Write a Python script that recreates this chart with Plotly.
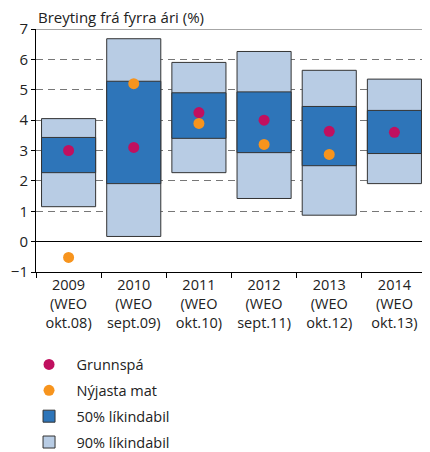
import plotly.graph_objects as go

categories = ["2009<br>(WEO<br>okt.08)", "2010<br>(WEO<br>sept.09)", "2011<br>(WEO<br>okt.10)",
              "2012<br>(WEO<br>sept.11)", "2013<br>(WEO<br>okt.12)", "2014<br>(WEO<br>okt.13)"]
lo90 = [1.15, 0.17, 2.27, 1.42, 0.87, 1.91]
hi90 = [4.05, 6.68, 5.90, 6.26, 5.64, 5.35]
lo50 = [2.27, 1.91, 3.40, 2.93, 2.50, 2.90]
hi50 = [3.43, 5.28, 4.90, 4.93, 4.45, 4.32]
grunnspa = [3.0, 3.1, 4.25, 4.0, 3.63, 3.6]
nyjasta = [-0.52, 5.2, 3.89, 3.2, 2.87, None]

FONT = "Open Sans"
dark = "#2E75B9"
light = "#B8CCE4"
outline = "#333333"

fig = go.Figure()
fig.add_trace(go.Bar(x=categories, y=[h - l for h, l in zip(hi90, lo90)], base=lo90,
                     name="90% líkindabil", marker=dict(color=light, line=dict(color=outline, width=1)),
                     width=0.83, legendrank=4, legendgroup="d"))
fig.add_trace(go.Bar(x=categories, y=[h - l for h, l in zip(hi50, lo50)], base=lo50,
                     name="50% líkindabil", marker=dict(color=dark, line=dict(color=outline, width=1)),
                     width=0.83, legendrank=3, legendgroup="c"))
fig.add_trace(go.Scatter(x=categories, y=grunnspa, mode="markers", name="Grunnspá",
                         marker=dict(color="#C0105F", size=11), legendrank=1, legendgroup="a"))
fig.add_trace(go.Scatter(x=categories, y=nyjasta, mode="markers", name="Nýjasta mat",
                         marker=dict(color="#F7941D", size=11), legendrank=2, legendgroup="b"))

fig.update_layout(
    width=422, height=444,
    margin=dict(l=28, r=3, t=21, b=180),
    paper_bgcolor="white", plot_bgcolor="white",
    barmode="overlay",
    font=dict(family=FONT, size=13, color="#222222"),
    showlegend=True,
    legend=dict(x=-0.037, y=0.233, xref="paper", yref="container", xanchor="left", yanchor="top",
                traceorder="grouped", tracegroupgap=4,
                font=dict(size=14.5, color="#222222"), itemwidth=45),
    xaxis=dict(type="category", showline=True, linecolor="black", linewidth=1,
               ticks="outside", tickson="boundaries", ticklen=5, tickcolor="black",
               tickfont=dict(size=14.5), showgrid=False),
    yaxis=dict(range=[-1, 7], tickvals=list(range(-1, 8)), showline=True, mirror=True,
               linecolor="black", linewidth=1, ticks="outside", ticklen=4, tickcolor="black",
               showgrid=True, gridcolor="#777777", griddash="7px,5px", gridwidth=1,
               zeroline=True, zerolinecolor="black", zerolinewidth=1,
               tickfont=dict(size=15)),
    annotations=[dict(text="Breyting frá fyrra ári (%)", xref="paper", yref="paper",
                      x=0, y=1, xanchor="left", yanchor="bottom", yshift=0,
                      showarrow=False, font=dict(size=15, family=FONT, color="#222222"))],
    shapes=[dict(type="line", xref="paper", yref="y", x0=0, x1=1, y0=7, y1=7,
                 line=dict(color="#888888", width=1.5))],
)

fig.write_html("out.html")
